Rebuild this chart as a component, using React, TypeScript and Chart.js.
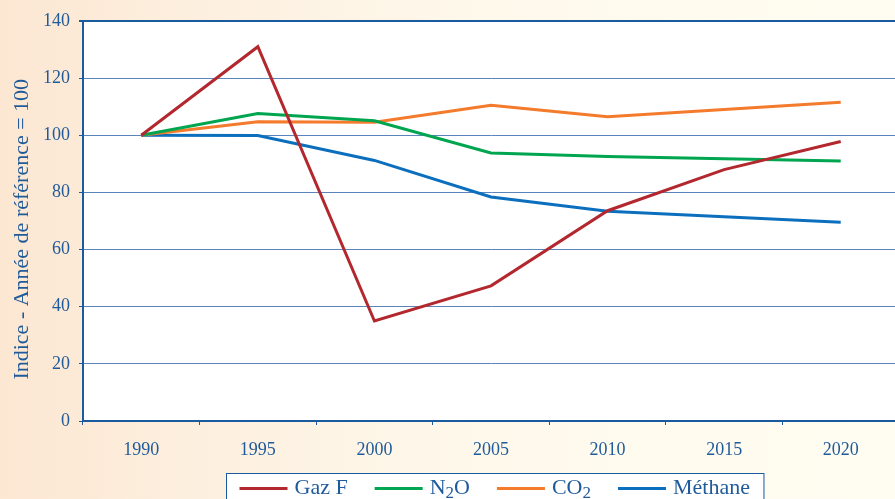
import React, { useEffect, useRef } from 'react';
import { Chart, registerables } from 'chart.js';

Chart.register(...registerables);

// ---- data ----
const years = ['1990', '1995', '2000', '2005', '2010', '2015', '2020'];
const gazF = [100, 131, 35, 47.3, 73.6, 88, 97.8];
const n2o = [100, 107.6, 105.1, 93.8, 92.6, 91.8, 91.0];
const co2 = [100, 104.7, 104.6, 110.5, 106.5, 109.0, 111.6];
const methane = [100, 99.9, 91.2, 78.4, 73.4, 71.5, 69.6];
const seriesLabels = ['Gaz F', 'N\u2082O', 'CO\u2082', 'M\u00e9thane'];
const seriesColors = ['#B3282E', '#00A54F', '#F47A2C', '#0B6FBE'];
const yTitle = 'Indice - Ann\u00e9e de r\u00e9f\u00e9rence = 100';
const yMin = 0;
const yMax = 140;
const yStep = 20;

// ---- style ----
const FAMILY = "'Liberation Serif', 'Times New Roman', serif";
const TEXT = '#1F5A9A';
const AXIS = '#1A5A9F';
const GRID = '#5A84BA';

const SUB: Record<string, string> = {
  '\u2080': '0', '\u2081': '1', '\u2082': '2', '\u2083': '3', '\u2084': '4',
  '\u2085': '5', '\u2086': '6', '\u2087': '7', '\u2088': '8', '\u2089': '9',
};

function runs(text: string) {
  const out: { s: string; sub: boolean }[] = [];
  for (const ch of text) {
    const sub = ch in SUB;
    const c = sub ? SUB[ch] : ch;
    const last = out[out.length - 1];
    if (last && last.sub === sub) last.s += c;
    else out.push({ s: c, sub });
  }
  return out;
}

function richText(ctx: CanvasRenderingContext2D, text: string, x: number, y: number,
  size: number, subSize: number, subDy: number, draw: boolean) {
  let cx = x;
  for (const r of runs(text)) {
    ctx.font = `${r.sub ? subSize : size}px ${FAMILY}`;
    if (draw) ctx.fillText(r.s, cx, y + (r.sub ? subDy : 0));
    cx += ctx.measureText(r.s).width;
  }
  return cx - x;
}

const plotBg = {
  id: 'plotBg',
  beforeDraw(chart: any) {
    const { ctx, chartArea } = chart;
    ctx.save();
    ctx.fillStyle = '#FFFFFF';
    ctx.fillRect(chartArea.left, chartArea.top, chartArea.right - chartArea.left, chartArea.bottom - chartArea.top);
    ctx.restore();
  },
};

const boxLegend = {
  id: 'boxLegend',
  afterDraw(chart: any) {
    const { ctx, chartArea } = chart;
    const size = 22, subSize = 17, subDy = 4;
    const lineW = 48, gap = 7, spacing = 27, padL = 13, padR = 14, boxH = 32;
    ctx.save();
    ctx.textBaseline = 'alphabetic';
    ctx.textAlign = 'left';
    const items = chart.data.datasets.map((ds: any) => ({
      label: ds.label as string,
      color: ds.borderColor as string,
      w: richText(ctx, ds.label, 0, 0, size, subSize, subDy, false),
    }));
    let total = padL + padR;
    items.forEach((it: any, i: number) => {
      total += lineW + gap + it.w + (i > 0 ? spacing : 0);
    });
    const cxm = (chartArea.left + chartArea.right) / 2 + 4;
    const left = Math.round(cxm - total / 2) + 0.5;
    const top = chartArea.bottom + 52.5;
    ctx.fillStyle = '#FFFFFF';
    ctx.fillRect(left, top, total, boxH);
    ctx.strokeStyle = AXIS;
    ctx.lineWidth = 1;
    ctx.strokeRect(left, top, total, boxH);
    let x = left + padL;
    items.forEach((it: any, i: number) => {
      if (i > 0) x += spacing;
      ctx.strokeStyle = it.color;
      ctx.lineWidth = 3;
      ctx.beginPath();
      ctx.moveTo(x, top + 15);
      ctx.lineTo(x + lineW, top + 15);
      ctx.stroke();
      x += lineW + gap;
      ctx.fillStyle = TEXT;
      richText(ctx, it.label, x, top + 20.5, size, subSize, subDy, true);
      x += it.w;
    });
    ctx.restore();
  },
};

export default function App() {
  const ref = useRef<HTMLCanvasElement | null>(null);

  useEffect(() => {
    if (!ref.current) return;
    const series = [gazF, n2o, co2, methane];
    const chart = new Chart(ref.current, {
      type: 'line',
      data: {
        labels: years,
        datasets: series.map((d, i) => ({
          label: seriesLabels[i],
          data: d,
          borderColor: seriesColors[i],
          backgroundColor: seriesColors[i],
          borderWidth: 3,
          pointRadius: 0,
          tension: 0,
          fill: false,
        })),
      },
      options: {
        responsive: false,
        animation: false,
        devicePixelRatio: 1,
        layout: { padding: { top: 21, left: 0, right: 0, bottom: 0 } },
        plugins: {
          legend: { display: false },
          tooltip: { enabled: false },
          title: { display: false },
        },
        scales: {
          x: {
            type: 'category',
            offset: true,
            afterFit: (s: any) => { s.height = 78; },
            grid: {
              display: true,
              drawOnChartArea: false,
              drawTicks: true,
              tickLength: 4,
              tickColor: AXIS,
              offset: true,
            },
            border: { display: true, color: AXIS, width: 2 },
            ticks: {
              color: TEXT,
              font: { family: FAMILY, size: 18 },
              padding: 14,
              maxRotation: 0,
            },
          },
          y: {
            min: yMin,
            max: yMax,
            afterFit: (s: any) => { s.width = 83; },
            ticks: {
              stepSize: yStep,
              color: TEXT,
              font: { family: FAMILY, size: 18 },
              padding: 9,
            },
            grid: {
              color: (c: any) => (c.tick && c.tick.value === yMax ? AXIS : GRID),
              lineWidth: (c: any) => (c.tick && c.tick.value === yMax ? 2 : 1),
              drawTicks: true,
              tickLength: 4,
              tickColor: AXIS,
            },
            border: { display: true, color: AXIS, width: 2 },
            title: {
              display: true,
              text: yTitle + '\u00a0\u00a0\u00a0',
              color: TEXT,
              font: { family: FAMILY, size: 22 },
              padding: { top: 9, bottom: 0 },
            },
          },
        },
      },
      plugins: [plotBg, boxLegend],
    });
    return () => chart.destroy();
  }, []);

  return (
    <div
      style={{
        position: 'fixed',
        left: 0,
        top: 0,
        width: 895,
        height: 499,
        overflow: 'hidden',
        background: 'linear-gradient(to right, #FCE7D2 0%, #FDF0E0 25%, #FEF8EA 50%, #FFFBEF 75%, #FFFCF1 100%)',
      }}
    >
      <canvas ref={ref} width={899} height={499} style={{ display: 'block' }} />
    </div>
  );
}
